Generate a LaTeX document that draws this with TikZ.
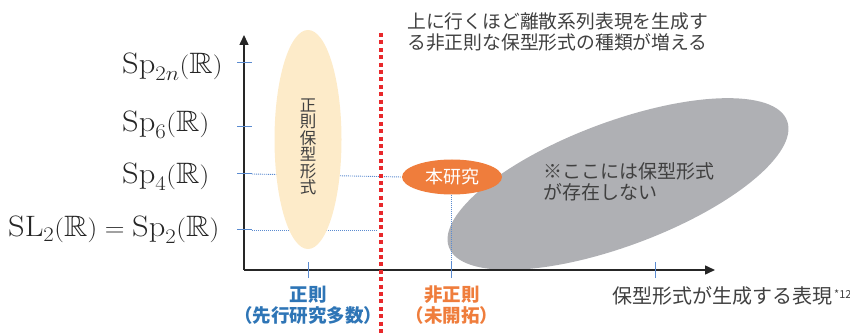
\documentclass[tikz,border=0pt]{standalone}
\usepackage{fontspec}
\usepackage{amsfonts}
\usepackage{graphicx}
\newfontfamily\jp{Noto Sans CJK JP}
\usetikzlibrary{shapes.geometric,arrows.meta}
\definecolor{txt}{HTML}{404040}
\definecolor{axc}{HTML}{262626}
\definecolor{tickc}{HTML}{5B8BD0}
\definecolor{redl}{HTML}{E8282B}
\definecolor{yell}{HTML}{FDEBC9}
\definecolor{oran}{HTML}{EF7D3C}
\definecolor{grayel}{HTML}{AFB0B4}
\definecolor{bluet}{HTML}{2E75B6}
\newcommand{\wmath}[1]{\scalebox{1.1}[1]{$#1$}}
\tikzset{
  axisline/.style={draw=axc,line width=1.5pt,-{Triangle[length=10pt,width=9pt]}},
  tickline/.style={draw=tickc,line width=1pt},
  guide/.style={draw=tickc,line width=0.9pt,dash pattern=on 1pt off 1pt},
  redline/.style={draw=redl,line width=4pt,dash pattern=on 4pt off 3.4pt},
  mathlab/.style={anchor=base west,inner sep=0pt,text=axc,font=\fontsize{29.5}{31}\selectfont},
  jptext/.style={inner sep=0pt,text=txt,font=\jp\fontsize{18.5}{21}\selectfont},
  blob/.style={ellipse,inner sep=0pt},
}
\begin{document}
\begin{tikzpicture}[x=1pt,y=-1pt]
\useasboundingbox (0,0) rectangle (850,336);
% coordinates
\coordinate (O) at (244,270);
\coordinate (ytop) at (244,35);
\coordinate (xend) at (715,270);
\coordinate (y1) at (244,63);
\coordinate (y2) at (244,127);
\coordinate (y3) at (244,174);
\coordinate (y4) at (244,230);
\coordinate (x1) at (308,270);
\coordinate (x2) at (451,270);
\coordinate (x3) at (655,270);
\coordinate (redtop) at (381,33);
\coordinate (redbot) at (381,336);
\coordinate (y4end) at (377,230);

% gray ellipse
\node[blob,fill=grayel,rotate=20.5,minimum width=361pt,minimum height=124pt] (gray) at (618,184) {};
\node[jptext,anchor=west,align=left,font=\jp\fontsize{19}{21}\selectfont] (graytxt) at (543,182) {※ここには保型形式\\が存在しない};

% nodes
\node[blob,fill=oran,minimum width=100pt,minimum height=35pt] (hon) at (452,177) {};
% guides
\draw[guide] ([xshift=8pt]y3) -- (hon.west);
\draw[guide] ([xshift=8pt]y4) -- (y4end);
\draw[guide] (hon.south -| x2) -- (x2);

\node[blob,fill=yell,minimum width=67pt,minimum height=219pt] (seisoku) at (308,139.5) {};
\node[jptext,align=center,font=\jp\fontsize{16.5}{16.5}\selectfont] (seitxt) at (308,147) {正\\則\\保\\型\\形\\式};
\node[inner sep=0pt,text=white,font=\jp\fontsize{18}{20}\selectfont] (hontxt) at (452,177) {本研究};

% axes
\draw[axisline] (O) -- (ytop);
\draw[axisline] (O) -- (xend);
% ticks
\foreach \t in {y1,y2,y3,y4}{\draw[tickline] ([xshift=-7pt]\t) -- ([xshift=8pt]\t);}
\foreach \t in {x1,x2,x3}{\draw[tickline] ([yshift=-8pt]\t) -- ([yshift=8pt]\t);}

% red line
\draw[redline] (redtop) -- (redbot);

% y labels
\node[mathlab] (l1) at (122,73.5) {\wmath{\mathrm{Sp}_{2n}(\mathbb{R})}};
\node[mathlab] (l2) at (122,131.5) {\wmath{\mathrm{Sp}_{6}(\mathbb{R})}};
\node[mathlab] (l3) at (122,183.5) {\wmath{\mathrm{Sp}_{4}(\mathbb{R})}};
\node[mathlab] (l4) at (8,236.5) {\wmath{\mathrm{SL}_{2}(\mathbb{R})=\mathrm{Sp}_{2}(\mathbb{R})}};

% top text
\node[jptext,anchor=west,align=left,font=\jp\fontsize{18.8}{21}\selectfont] (toptxt) at (407,32) {上に行くほど離散系列表現を生成す\\る非正則な保型形式の種類が増える};

% bottom labels
\node[jptext,align=center,text=bluet,font=\jp\bfseries\fontsize{18.5}{21}\selectfont] (b1) at (308,305.5) {正則\\（先行研究多数）};
\node[jptext,align=center,text=oran,font=\jp\bfseries\fontsize{18.5}{21}\selectfont] (b2) at (452,305.5) {非正則\\（未開拓）};
\node[jptext,anchor=west,font=\jp\fontsize{20}{22}\selectfont] (xlab) at (612,296) {保型形式が生成する表現\hspace{2pt}\raisebox{5pt}{\fontsize{11}{11}\selectfont *12}};
\end{tikzpicture}
\end{document}
